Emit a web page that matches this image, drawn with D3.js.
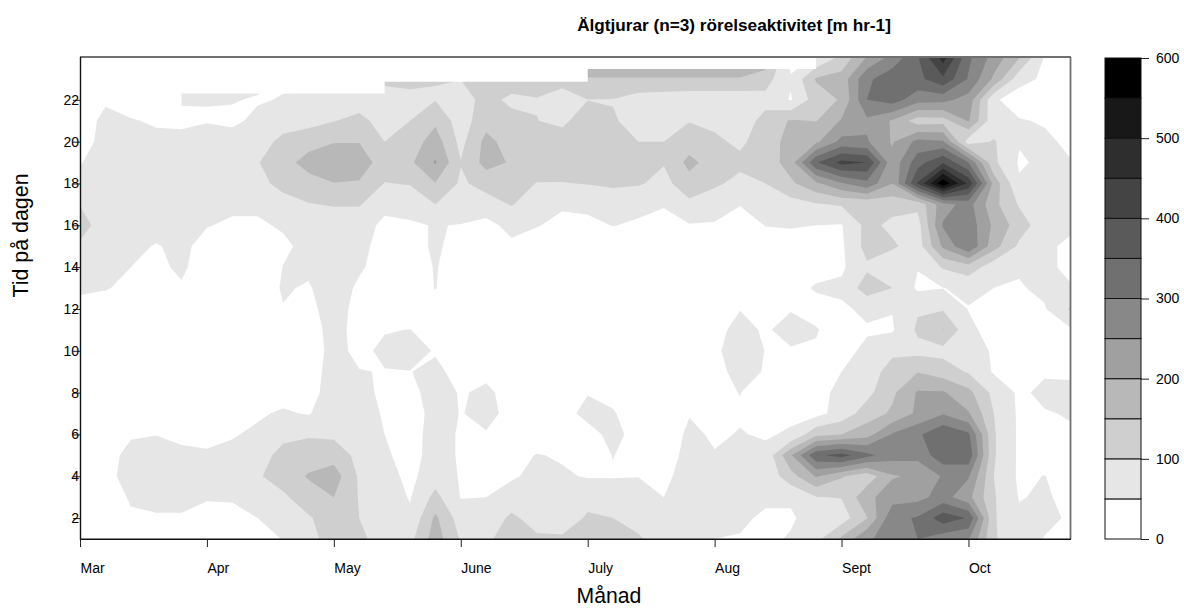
<!DOCTYPE html>
<html lang="sv">
<head>
  <meta charset="UTF-8" />
  <title>Älgtjurar rörelseaktivitet</title>
  <style>
    body { margin: 0; background: #fff; overflow: hidden; }
    svg { position: absolute; top: 0; left: 0; }
    text { font-family: "Liberation Sans", Arial, sans-serif; fill: #000; }
    .tick text { font-size: 14px; }
  </style>
</head>
<body>

<svg id="chart"></svg>

<script src="https://cdn.jsdelivr.net/npm/d3@7"></script>
<script>
// ----------------------------------
// 1) Data
//    40 time steps (5 per month), one list per hour of the day
// ----------------------------------
const hour01 = [0,0,0,0,0,0,10,28,52,85,120,110,80,85,175,95,90,125,110,107,115,110,105,78,60,50,47,38,55,85,160,245,265,300,270,255,105,70,48,30];
const hour02 = [0,0,40,45,45,30,35,50,75,95,125,100,78,58,160,75,62,112,75,75,106,100,85,70,62,52,58,43,43,75,75,148,285,305,380,345,105,60,60,45];
const hour03 = [0,8,58,65,65,55,55,75,92,125,150,97,75,47,115,48,50,65,72,70,85,78,70,50,62,70,68,58,58,98,102,185,230,235,270,215,105,47,57,35];
const hour04 = [15,38,65,72,72,70,72,95,120,155,175,93,68,38,78,46,44,46,58,55,47,47,49,42,65,65,62,62,130,205,155,120,195,210,255,255,100,42,51,30];
const hour05 = [10,30,65,70,60,57,60,80,115,125,130,85,58,30,72,44,30,35,52,46,35,51,35,32,62,52,58,60,195,340,370,315,270,265,335,335,105,42,35,30];
const hour06 = [0,10,45,49,40,35,47,57,88,95,90,78,50,28,72,44,47,30,25,28,35,62,35,25,58,45,52,46,55,135,150,180,255,290,345,310,105,42,35,45];
const hour07 = [0,0,0,0,0,10,25,45,55,47,75,72,45,20,72,48,62,38,15,35,62,53,30,15,48,30,46,35,42,35,70,125,158,210,245,205,100,42,47,53];
const hour08 = [0,0,0,0,0,0,10,25,35,30,75,65,40,35,72,46,58,35,15,25,48,40,20,15,20,40,51,30,30,35,62,85,140,205,205,165,85,42,60,62];
const hour09 = [0,0,0,0,0,0,0,10,20,30,68,52,48,49,60,35,40,20,5,10,30,25,15,10,15,40,60,48,25,25,50,75,120,148,125,95,45,40,45,42];
const hour10 = [0,0,0,0,0,0,0,5,15,25,65,38,60,70,46,8,0,0,0,0,0,0,0,0,20,42,72,49,47,47,35,60,90,85,85,90,40,25,25,25];
const hour11 = [0,0,0,0,0,0,0,5,15,25,70,30,47,51,30,5,0,0,0,0,0,0,0,0,15,40,60,46,62,52,35,45,45,108,152,65,25,20,30,42];
const hour12 = [40,35,20,10,10,5,5,5,48,38,70,35,25,20,30,10,0,0,0,0,0,0,0,0,0,30,49,30,48,40,42,60,52,95,95,48,30,30,46,105];
const hour13 = [55,52,43,35,45,15,10,20,55,45,80,40,15,15,52,15,5,5,5,5,5,5,5,5,5,5,5,10,40,53,60,125,100,42,49,60,50,46,60,52];
const hour14 = [70,70,50,40,58,25,15,15,51,60,75,58,25,25,53,25,10,10,10,10,10,10,10,10,10,10,10,20,25,40,42,92,60,52,105,130,70,55,55,45];
const hour15 = [92,70,62,47,60,35,30,30,42,62,75,65,30,30,58,30,20,40,30,20,20,30,20,15,20,20,15,35,40,42,42,118,108,75,210,295,170,90,60,40];
const hour16 = [120,75,70,68,65,52,44,44,55,65,70,70,40,45,52,48,35,65,52,40,42,51,45,30,47,45,30,51,52,50,47,115,88,80,255,280,190,125,70,60];
const hour17 = [98,70,72,70,68,66,58,58,85,97,104,104,62,65,100,80,78,103,72,55,58,70,60,54,88,75,52,67,80,95,105,110,118,112,230,270,165,95,60,60];
const hour18 = [60,68,72,72,75,75,80,88,112,135,149,145,98,103,148,92,118,125,98,98,102,108,105,85,130,107,88,100,140,190,245,285,200,405,590,440,180,55,55,53];
const hour19 = [48,68,75,78,78,78,80,97,135,165,178,178,125,140,205,102,168,145,130,128,125,122,118,103,165,125,110,118,175,345,415,400,215,330,395,300,110,45,58,53];
const hour20 = [25,70,70,60,60,65,65,75,115,135,148,148,100,122,175,85,165,128,125,125,135,125,100,100,125,108,92,122,170,190,265,255,195,265,255,75,105,53,60,40];
const hour21 = [10,70,53,45,43,48,43,58,75,80,98,115,78,100,140,75,132,115,101,88,130,104,85,70,98,90,75,115,155,148,205,240,195,125,130,205,65,54,45,25];
const hour22 = [0,40,30,25,53,51,52,47,52,53,65,75,80,88,98,80,115,90,97,85,99,98,75,70,65,65,65,85,46,125,155,300,325,270,265,230,58,22,20,10];
const hour23 = [0,0,0,0,60,60,60,60,45,45,60,60,110,112,101,101,125,125,125,112,148,148,148,148,148,148,148,120,56,155,170,290,330,335,390,295,190,70,40,15];
const hour24 = [0,0,0,0,0,0,0,0,0,0,0,0,0,0,0,0,0,0,0,0,180,180,180,180,180,180,180,190,30,55,115,205,270,345,470,310,230,150,45,20];

const months = ["Mar", "Apr", "May", "June", "July", "Aug", "Sept", "Oct"];
const monthSteps = [0, 5, 10, 15, 20, 25, 30, 35];
const hourTicks = [2, 4, 6, 8, 10, 12, 14, 16, 18, 20, 22];
const levels = [50, 100, 150, 200, 250, 300, 350, 400, 450, 500, 550];
const barTicks = [0, 100, 200, 300, 400, 500, 600];
const greys = ["#ffffff", "#e6e6e6", "#cfcfcf", "#b8b8b8", "#a0a0a0", "#888888", "#707070", "#5a5a5a", "#444444", "#2e2e2e", "#181818", "#000000"];

// last hour with data per time step, the interpolation is blank above it
const dataTop = [21.7,21.7,21.7,21.7,22.3,22.3,22.3,22.3,22.3,22.3,22.3,22.3,22.86,22.86,22.86,22.86,22.86,22.86,22.86,22.86,23.48,23.48,23.48,23.48,23.48,23.48,23.48,23.48,23.48,24,24,24,24,24,24,24,24,24,24,24];

const activity = [hour01, hour02, hour03, hour04, hour05, hour06, hour07, hour08, hour09, hour10, hour11, hour12,
                  hour13, hour14, hour15, hour16, hour17, hour18, hour19, hour20, hour21, hour22, hour23, hour24];

// ----------------------------------
// 2) Setup
// ----------------------------------
const width = 1184;
const height = 608;
const plot = { left: 80, right: 1070, top: 58, bottom: 539 };
const bar = { left: 1105, right: 1141, top: 58, bottom: 539 };

const svg = d3.select("#chart").attr("width", width).attr("height", height);

const x = d3.scaleLinear().domain([0, 39]).range([plot.left, plot.right]);
const y = d3.scaleLinear().domain([1, 24]).range([plot.bottom, plot.top]);
const barY = d3.scaleLinear().domain([0, 600]).range([bar.bottom, bar.top]);

svg.append("clipPath").attr("id", "plotClip")
  .append("rect")
  .attr("x", plot.left).attr("y", plot.top)
  .attr("width", plot.right - plot.left).attr("height", plot.bottom - plot.top);

// ----------------------------------
// 3) Filled contours
// ----------------------------------
const nCols = hour01.length;
const nRows = activity.length;
const contours = d3.contours().size([nCols, nRows]).thresholds(levels)(activity.flat());

// grid point i sits at i + 0.5 in contour coordinates
const toPlot = d3.geoTransform({
  point(px, py) { this.stream.point(x(px - 0.5), y(py + 0.5)); }
});
const contourPath = d3.geoPath(toPlot);

const plotLayer = svg.append("g").attr("clip-path", "url(#plotClip)");

plotLayer.selectAll("path.band")
  .data(contours)
  .enter()
  .append("path")
  .attr("class", "band")
  .attr("d", contourPath)
  .attr("fill", (d, i) => greys[i + 1]);

// blank part above the last data hour
plotLayer.append("path")
  .datum(dataTop)
  .attr("d", d3.area()
    .curve(d3.curveStepAfter)
    .x((d, i) => x(i))
    .y0(y(24) - 2)
    .y1(d => y(d)))
  .attr("fill", "#fff");

// ----------------------------------
// 4) Axes and frame
// ----------------------------------
// top and right come out grey and thicker, left and bottom thin and black
const frameLine = (x1, y1, x2, y2, colour, w) => svg.append("line")
  .attr("x1", x1).attr("y1", y1).attr("x2", x2).attr("y2", y2)
  .attr("stroke", colour).attr("stroke-width", w);
frameLine(plot.left, plot.top - 1, plot.right + 1, plot.top - 1, "#707070", 1.8);
frameLine(plot.right + 0.5, plot.top - 1, plot.right + 0.5, plot.bottom, "#707070", 1.8);
frameLine(plot.left + 0.5, plot.top - 1, plot.left + 0.5, plot.bottom + 1, "#111", 1.4);
frameLine(plot.left, plot.bottom + 0.3, plot.right + 1, plot.bottom + 0.3, "#111", 1.4);

const xAxis = svg.append("g")
  .attr("transform", `translate(0,${plot.bottom})`)
  .call(d3.axisBottom(x).tickValues(monthSteps).tickFormat((d, i) => months[i]).tickSize(8).tickSizeOuter(0));
xAxis.select(".domain").remove();
xAxis.selectAll(".tick line").attr("stroke", "#222");
xAxis.selectAll(".tick text")
  .attr("text-anchor", "start")
  .attr("y", 34)
  .attr("dy", 0);

const yAxis = svg.append("g")
  .attr("transform", `translate(${plot.left},0)`)
  .call(d3.axisLeft(y).tickValues(hourTicks).tickSize(7).tickPadding(-6).tickSizeOuter(0));
yAxis.select(".domain").remove();
yAxis.selectAll(".tick line").attr("stroke", "#222");

svg.append("text")
  .attr("x", 734).attr("y", 31)
  .attr("text-anchor", "middle")
  .attr("font-size", 17.2).attr("font-weight", "bold")
  .text("Älgtjurar (n=3) rörelseaktivitet [m hr-1]");

svg.append("text")
  .attr("x", 609).attr("y", 603)
  .attr("text-anchor", "middle")
  .attr("font-size", 21.2)
  .text("Månad");

svg.append("text")
  .attr("transform", "translate(28,235.5) rotate(-90)")
  .attr("text-anchor", "middle")
  .attr("font-size", 21.4)
  .text("Tid på dagen");

// ----------------------------------
// 5) Colour bar
// ----------------------------------
const barLevels = [0].concat(levels);
svg.append("g").selectAll("rect")
  .data(barLevels)
  .enter()
  .append("rect")
  .attr("x", bar.left)
  .attr("width", bar.right - bar.left)
  .attr("y", d => barY(d + 50))
  .attr("height", d => barY(d) - barY(d + 50))
  .attr("fill", (d, i) => greys[i])
  .attr("stroke", "#111")
  .attr("stroke-width", 1);

const barAxis = svg.append("g")
  .attr("transform", `translate(${bar.right},0)`)
  .call(d3.axisRight(barY).tickValues(barTicks).tickSize(8).tickPadding(7).tickSizeOuter(0));
barAxis.select(".domain").remove();
barAxis.selectAll(".tick line").attr("stroke", "#222");
</script>

</body>
</html>
